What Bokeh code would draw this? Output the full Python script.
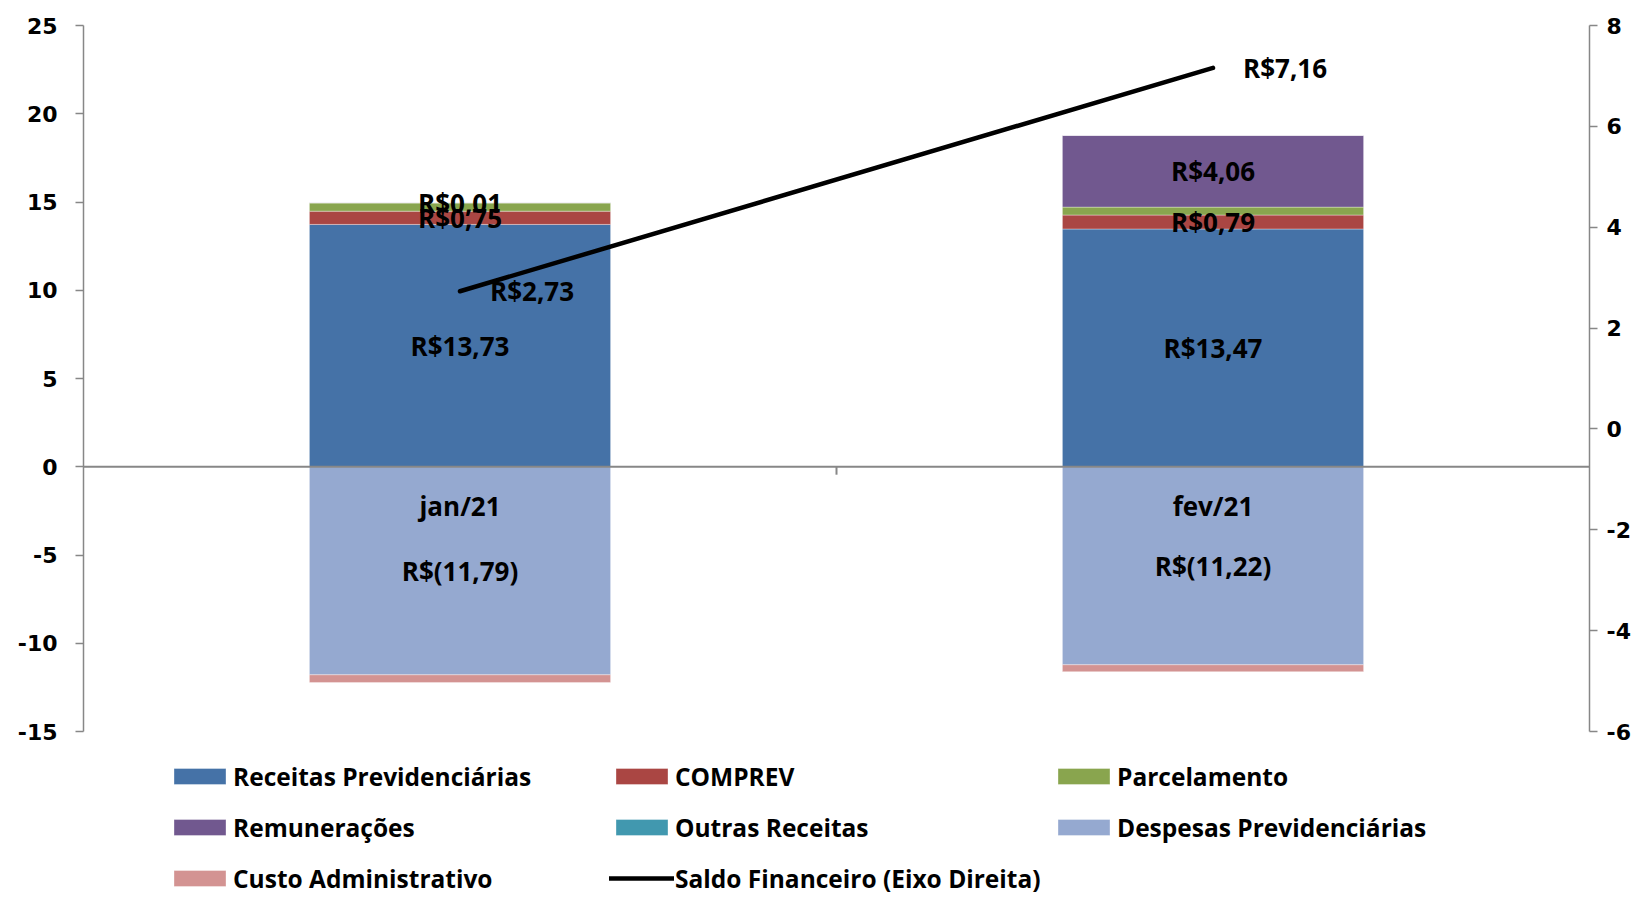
from bokeh.plotting import figure
from bokeh.models import (ColumnDataSource, Range1d, LinearAxis, FixedTicker,
                          Legend, LegendItem, Span)
from bokeh.core.properties import value
from bokeh.embed import file_html
from bokeh.resources import INLINE

# ---------------- data ----------------
categories = ["jan/21", "fev/21"]
receitas_prev = [13.73, 13.47]
comprev = [0.75, 0.79]
parcelamento = [0.47, 0.45]
remuneracoes = [0.01, 4.06]
outras_receitas = [0.0, 0.0]
despesas_prev = [-11.79, -11.22]
custo_adm = [-0.44, -0.39]
saldo = [2.73, 7.16]

left_ticks = [-15, -10, -5, 0, 5, 10, 15, 20, 25]
right_ticks = [-6, -4, -2, 0, 2, 4, 6, 8]

series = [
    ("Receitas Previdenciárias", receitas_prev, "#4572A7", True),
    ("COMPREV", comprev, "#AA4643", True),
    ("Parcelamento", parcelamento, "#89A54E", False),
    ("Remunerações", remuneracoes, "#71588F", True),
    ("Outras Receitas", outras_receitas, "#4198AF", False),
    ("Despesas Previdenciárias", despesas_prev, "#95A9D0", True),
    ("Custo Administrativo", custo_adm, "#D39392", False),
]
saldo_name = "Saldo Financeiro (Eixo Direita)"

FONT = "Open Sans"
AX_FONT = "DejaVu Sans"
AXC = "#878787"

# layout (pixels)
W, H = 1633, 893
TOP, LEFT, RIGHT = 25, 83, 42
LEGEND_PX = 162          # strip under the axes reserved for the legend
PLOT_PX = H - TOP - LEGEND_PX


def fmt(v):
    s = f"{abs(v):.2f}".replace(".", ",")
    return f"R$({s})" if v < 0 else f"R${s}"


def extended(lo, hi):
    # extend the range downward so the legend strip lies inside the frame
    return Range1d(lo - (hi - lo) * LEGEND_PX / PLOT_PX, hi)


xs = [i + 0.5 for i in range(len(categories))]
bounds = [i + 1.0 for i in range(len(categories) - 1)]

p = figure(width=W, height=H, output_backend="svg", toolbar_location=None,
           x_range=Range1d(0, len(categories)),
           y_range=extended(left_ticks[0], left_ticks[-1]),
           min_border_left=LEFT, min_border_right=RIGHT, min_border_top=TOP,
           min_border_bottom=0, x_axis_location=None)
p.outline_line_color = None
p.xgrid.visible = False
p.ygrid.visible = False
p.extra_y_ranges = {"right": extended(right_ticks[0], right_ticks[-1])}

# stacked bars
pos = [0.0] * len(categories)
neg = [0.0] * len(categories)
renderers = {}
lab_x, lab_y, lab_t = [], [], []
for name, vals, color, labeled in series:
    bottoms, tops = [], []
    for i, v in enumerate(vals):
        if v >= 0:
            b, t = pos[i], pos[i] + v
            pos[i] = t
        else:
            b, t = neg[i], neg[i] + v
            neg[i] = t
        bottoms.append(b)
        tops.append(t)
        if labeled and v != 0:
            lab_x.append(xs[i])
            lab_y.append((b + t) / 2)
            lab_t.append(fmt(v))
    src = ColumnDataSource(dict(x=xs, bottom=bottoms, top=tops))
    r = p.vbar(x="x", bottom="bottom", top="top", width=0.4, source=src,
               fill_color=color, line_color="white", line_alpha=0.35, line_width=1)
    renderers[name] = r

# zero line (category axis) with tick between categories
p.add_layout(Span(location=0, dimension="width", line_color=AXC, line_width=2))
p.segment(x0=bounds, x1=bounds, y0=[0] * len(bounds), y1=[-0.45] * len(bounds),
          line_color=AXC, line_width=2)

TXT = dict(text_font=value(FONT), text_font_style="bold", text_font_size="26px",
           text_color="black")

# category labels
p.text(x=xs, y=[0] * len(xs), text=categories, y_offset=39,
       text_align="center", text_baseline="middle", **TXT)

# bar labels
p.text(x=lab_x, y=lab_y, text=lab_t, text_align="center", text_baseline="middle", **TXT)

# saldo line (right axis)
line = p.line(x=xs, y=saldo, y_range_name="right", line_color="black",
              line_width=4.5, line_cap="round")
p.text(x=xs, y=saldo, text=[fmt(v) for v in saldo], y_range_name="right",
       x_offset=30, text_align="left", text_baseline="middle", **TXT)


def style_y(ax, ticks, standoff):
    ax.ticker = FixedTicker(ticks=ticks, minor_ticks=[])
    ax.bounds = (ticks[0], ticks[-1])
    ax.major_label_overrides = {t: str(t) for t in ticks}
    ax.axis_line_color = AXC
    ax.axis_line_width = 1.5
    ax.major_tick_line_color = AXC
    ax.major_tick_line_width = 1.5
    ax.major_tick_out = 8
    ax.major_tick_in = 0
    ax.minor_tick_out = 0
    ax.minor_tick_in = 0
    ax.major_label_standoff = standoff
    ax.major_label_text_font = AX_FONT
    ax.major_label_text_font_style = "bold"
    ax.major_label_text_font_size = "22px"
    ax.major_label_text_color = "black"


style_y(p.yaxis[0], left_ticks, 18)
ra = LinearAxis(y_range_name="right")
style_y(ra, right_ticks, 9)
p.add_layout(ra, "right")

# legend (column-major fill, ordered to read row by row like the reference)
all_items = [(name, renderers[name]) for name, _, _, _ in series] + [(saldo_name, line)]
ncols = 3
nrows = 3
order = [r * ncols + c for c in range(ncols) for r in range(nrows) if r * ncols + c < len(all_items)]
items = [LegendItem(label=all_items[k][0], renderers=[all_items[k][1]]) for k in order]
legend = Legend(items=items, ncols=ncols, location=(84, -6), margin=0, padding=0,
                spacing=9, glyph_width=65, glyph_height=20, label_standoff=1,
                label_width=367, label_height=42, border_line_color=None,
                background_fill_alpha=0,
                label_text_font=FONT, label_text_font_style="bold",
                label_text_font_size="24.5px", label_text_color="black")
p.add_layout(legend)

open("out.html", "w").write(file_html(p, INLINE))
